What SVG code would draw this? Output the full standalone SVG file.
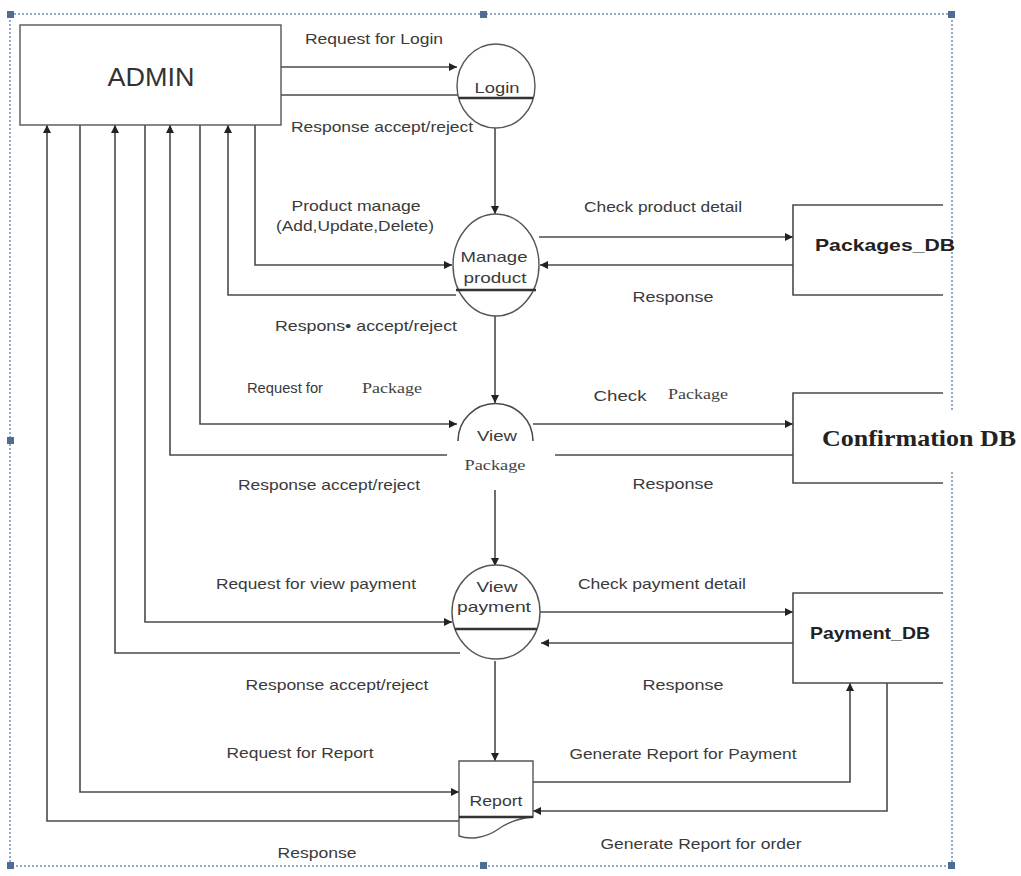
<svg xmlns="http://www.w3.org/2000/svg" width="1021" height="876" viewBox="0 0 1021 876">
<style>
.ln{fill:none;stroke:#4a4a4a;stroke-width:1.6}
.sh{fill:#fff;stroke:#555;stroke-width:1.4}
.bar{stroke:#333;stroke-width:2.4}
.lb{font-family:"Liberation Sans",Arial,sans-serif;font-size:15px;fill:#3a3a3a;text-anchor:middle}
.sf{font-family:"Liberation Serif","Times New Roman",serif;font-size:14.5px;fill:#444;text-anchor:middle}
.db{font-family:"Liberation Sans",Arial,sans-serif;font-size:17px;font-weight:bold;fill:#222;text-anchor:middle}
.hd{fill:#4f6d93}
.bd{fill:none;stroke:#6d8fba;stroke-width:1.5;stroke-dasharray:2 2}
</style>
<defs>
<marker id="ah" viewBox="0 0 10 10" refX="10" refY="5" markerWidth="8" markerHeight="8" markerUnits="userSpaceOnUse" orient="auto">
<path d="M0,0 L10,5 L0,10 Z" fill="#222"/>
</marker>
</defs>
<rect width="1021" height="876" fill="#fff"/>
<g id="frame">
<path class="bd" d="M952,410 V14 H10 V866 H952 V472"/>
<rect class="hd" x="7" y="11" width="7" height="7"/>
<rect class="hd" x="480" y="11" width="7" height="7"/>
<rect class="hd" x="948" y="11" width="7" height="7"/>
<rect class="hd" x="7" y="437" width="7" height="7"/>
<rect class="hd" x="7" y="862" width="7" height="7"/>
<rect class="hd" x="480" y="862" width="7" height="7"/>
<rect class="hd" x="948" y="862" width="7" height="7"/>
</g>
<g id="connectors">
<path class="ln" d="M281,67 H457" marker-end="url(#ah)"/>
<path class="ln" d="M458,95 H281"/>
<path class="ln" d="M495,128 V214" marker-end="url(#ah)"/>
<path class="ln" d="M255,125 V265 H452" marker-end="url(#ah)"/>
<path class="ln" d="M456,295 H228 V125" marker-end="url(#ah)"/>
<path class="ln" d="M539,237 H793" marker-end="url(#ah)"/>
<path class="ln" d="M793,265 H540" marker-end="url(#ah)"/>
<path class="ln" d="M495,316 V403" marker-end="url(#ah)"/>
<path class="ln" d="M200,125 V424 H457" marker-end="url(#ah)"/>
<path class="ln" d="M447,455 H170 V125" marker-end="url(#ah)"/>
<path class="ln" d="M533,424 H793" marker-end="url(#ah)"/>
<path class="ln" d="M793,455 H555"/>
<path class="ln" d="M495,490 V566" marker-end="url(#ah)"/>
<path class="ln" d="M145,125 V622 H452" marker-end="url(#ah)"/>
<path class="ln" d="M460,653 H115 V125" marker-end="url(#ah)"/>
<path class="ln" d="M540,612 H793" marker-end="url(#ah)"/>
<path class="ln" d="M793,643 H541" marker-end="url(#ah)"/>
<path class="ln" d="M495,661 V761" marker-end="url(#ah)"/>
<path class="ln" d="M80,125 V792 H459" marker-end="url(#ah)"/>
<path class="ln" d="M459,821 H47 V125" marker-end="url(#ah)"/>
<path class="ln" d="M533,782 H850 V683" marker-end="url(#ah)"/>
<path class="ln" d="M887,683 V811 H533" marker-end="url(#ah)"/>
</g>
<g id="labels">
<text class="lb" x="374" y="44" textLength="138" lengthAdjust="spacingAndGlyphs">Request for Login</text>
<text class="lb" x="382" y="132" textLength="182" lengthAdjust="spacingAndGlyphs">Response accept/reject</text>
<text class="lb" x="356" y="211" textLength="129" lengthAdjust="spacingAndGlyphs">Product manage</text>
<text class="lb" x="355" y="231" textLength="158" lengthAdjust="spacingAndGlyphs">(Add,Update,Delete)</text>
<text class="lb" x="663" y="212" textLength="158" lengthAdjust="spacingAndGlyphs">Check product detail</text>
<text class="lb" x="673" y="302" textLength="81" lengthAdjust="spacingAndGlyphs">Response</text>
<text class="lb" x="366" y="331" textLength="182" lengthAdjust="spacingAndGlyphs">Respons• accept/reject</text>
<text class="lb" x="285" y="393" textLength="76" lengthAdjust="spacingAndGlyphs">Request for</text>
<text class="sf" x="392" y="393" textLength="60" lengthAdjust="spacingAndGlyphs">Package</text>
<text class="lb" x="620" y="401" textLength="53" lengthAdjust="spacingAndGlyphs">Check</text>
<text class="sf" x="698" y="399" textLength="60" lengthAdjust="spacingAndGlyphs">Package</text>
<text class="lb" x="329" y="490" textLength="182" lengthAdjust="spacingAndGlyphs">Response accept/reject</text>
<text class="lb" x="673" y="489" textLength="81" lengthAdjust="spacingAndGlyphs">Response</text>
<text class="lb" x="316" y="589" textLength="200" lengthAdjust="spacingAndGlyphs">Request for view payment</text>
<text class="lb" x="662" y="589" textLength="168" lengthAdjust="spacingAndGlyphs">Check payment detail</text>
<text class="lb" x="337" y="690" textLength="183" lengthAdjust="spacingAndGlyphs">Response accept/reject</text>
<text class="lb" x="683" y="690" textLength="81" lengthAdjust="spacingAndGlyphs">Response</text>
<text class="lb" x="300" y="758" textLength="147" lengthAdjust="spacingAndGlyphs">Request for Report</text>
<text class="lb" x="683" y="759" textLength="227" lengthAdjust="spacingAndGlyphs">Generate Report for Payment</text>
<text class="lb" x="317" y="858" textLength="79" lengthAdjust="spacingAndGlyphs">Response</text>
<text class="lb" x="701" y="849" textLength="201" lengthAdjust="spacingAndGlyphs">Generate Report for order</text>
</g>
<g id="admin">
<rect class="sh" x="20" y="25" width="261" height="100" stroke="#444" stroke-width="1.8"/>
<text x="151" y="86" font-family="Liberation Sans, Arial, sans-serif" font-size="26" fill="#333" text-anchor="middle" textLength="87" lengthAdjust="spacingAndGlyphs">ADMIN</text>
</g>
<g id="login">
<ellipse class="sh" cx="496" cy="86" rx="39" ry="42"/>
<line class="bar" x1="459" y1="98" x2="533" y2="98"/>
<text class="lb" x="497" y="93" textLength="45" lengthAdjust="spacingAndGlyphs">Login</text>
</g>
<g id="manage-product">
<ellipse class="sh" cx="496" cy="265" rx="43" ry="51"/>
<line class="bar" x1="456" y1="290" x2="536" y2="290"/>
<text class="lb" x="494" y="262" textLength="67" lengthAdjust="spacingAndGlyphs">Manage</text>
<text class="lb" x="495" y="283" textLength="63" lengthAdjust="spacingAndGlyphs">product</text>
</g>
<g id="packages-db">
<path class="ln" d="M943,205 H793 V295 H943"/>
<text class="db" x="885" y="251" textLength="140" lengthAdjust="spacingAndGlyphs">Packages_DB</text>
</g>
<g id="view-package">
<path class="ln" d="M458,441 A37.5,37.5 0 0 1 533,441" stroke="#555"/>
<text class="lb" x="497" y="441" textLength="40" lengthAdjust="spacingAndGlyphs">View</text>
<text class="sf" x="495" y="470" textLength="61" lengthAdjust="spacingAndGlyphs">Package</text>
</g>
<g id="confirmation-db">
<path class="ln" d="M943,393 H793 V483 H943"/>
<text x="919" y="446" font-family="Liberation Serif, Times New Roman, serif" font-size="24" font-weight="bold" fill="#222" text-anchor="middle" textLength="194" lengthAdjust="spacingAndGlyphs">Confirmation DB</text>
</g>
<g id="view-payment">
<ellipse class="sh" cx="496" cy="612" rx="44" ry="47"/>
<line class="bar" x1="455" y1="629" x2="537" y2="629"/>
<text class="lb" x="497" y="592" textLength="41" lengthAdjust="spacingAndGlyphs">View</text>
<text class="lb" x="494" y="612" textLength="74" lengthAdjust="spacingAndGlyphs">payment</text>
</g>
<g id="payment-db">
<path class="ln" d="M943,593 H793 V683 H943"/>
<text class="db" x="870" y="639" textLength="120" lengthAdjust="spacingAndGlyphs">Payment_DB</text>
</g>
<g id="report">
<path class="sh" d="M459,761 H533 V817 C520,818 508,822 497,830 C485,838 470,840 459,836 Z"/>
<line class="bar" x1="459" y1="817" x2="533" y2="817"/>
<text class="lb" x="496" y="806" textLength="53" lengthAdjust="spacingAndGlyphs">Report</text>
</g>
</svg>
